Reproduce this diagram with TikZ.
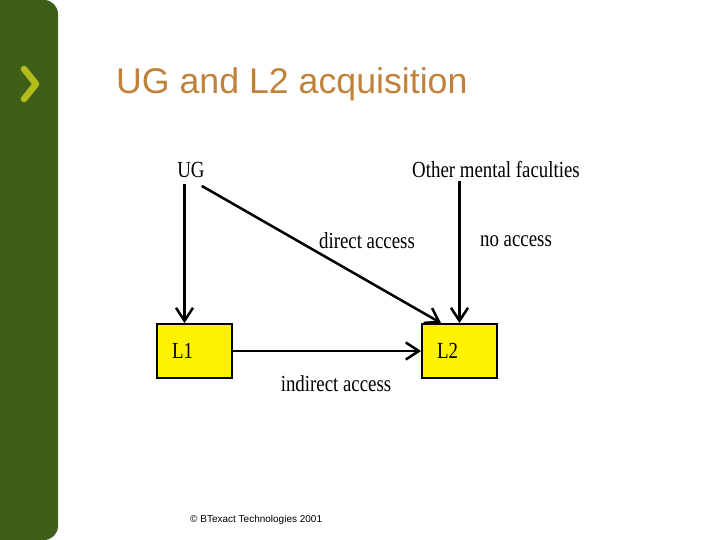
\documentclass[tikz,border=0pt]{standalone}
\usepackage{fontspec}
\setmainfont{Liberation Serif}
\newfontfamily\titlefont{Liberation Sans}
\newfontfamily\diagfont[FakeStretch=0.82]{Liberation Serif}
\usetikzlibrary{arrows.meta}

\definecolor{bargreen}{RGB}{62,95,23}
\definecolor{chevron}{RGB}{180,188,28}
\definecolor{titlebrown}{RGB}{192,130,58}

\tikzset{
  lbl/.style={font=\diagfont\fontsize{23}{25}\selectfont, inner sep=1pt},
  langbox/.style={draw=black, line width=1.8pt, fill=yellow, minimum width=75pt, minimum height=54pt,
    text width=45pt, inner xsep=15pt, align=left, font=\diagfont\fontsize{23}{25}\selectfont},
  access/.style={line width=2.5pt, -{Straight Barb[length=13pt,width=17pt]}}
}

\begin{document}
\begin{tikzpicture}[x=1pt, y=-1pt]
    \useasboundingbox (0,0) rectangle (720,540);

    % side bar
    \fill[bargreen, rounded corners=14pt] (-20,0) rectangle (58,540);
    \draw[chevron, line width=6.5pt, line cap=round, line join=round] (24,69) -- (36,84) -- (24,99);

    % title
    \node[anchor=base west, font=\titlefont\fontsize{35.7}{40}\selectfont, text=titlebrown, inner sep=0pt] (title) at (116,94) {UG and L2 acquisition};

    % sources
    \node[lbl] (ug) at (191,170) {UG};
    \node[lbl] (omf) at (496,170) {Other mental faculties};

    % languages
    \node[langbox] (l1) at (194.5,351) {L1};
    \node[langbox] (l2) at (459.5,351) {L2};

    % UG -> L1
    \coordinate (ugdrop) at ([xshift=-10pt]l1.north);
    \draw[access, shorten <=5pt] (ugdrop |- ug.south) -- (ugdrop);

    % UG -> L2
    \draw[access] ([xshift=-4pt,yshift=-7pt]ug.south east) -- ([xshift=20pt]l2.north west);

    % other faculties -> L2
    \draw[access, shorten <=2pt] (l2.north |- omf.south) -- (l2.north);

    % L1 -> L2
    \draw[access] (l1.east) -- (l2.west);

    % labels
    \node[lbl] (direct) at (367,241) {direct access};
    \node[lbl] (none) at (516,241) {no access};
    \node[lbl] (indirect) at (336,384) {indirect access};

    % footer
    \node[font=\titlefont\fontsize{10}{11}\selectfont, anchor=west, inner sep=0pt] (credit) at (190,520) {© BTexact Technologies 2001};

\end{tikzpicture}
\end{document}
